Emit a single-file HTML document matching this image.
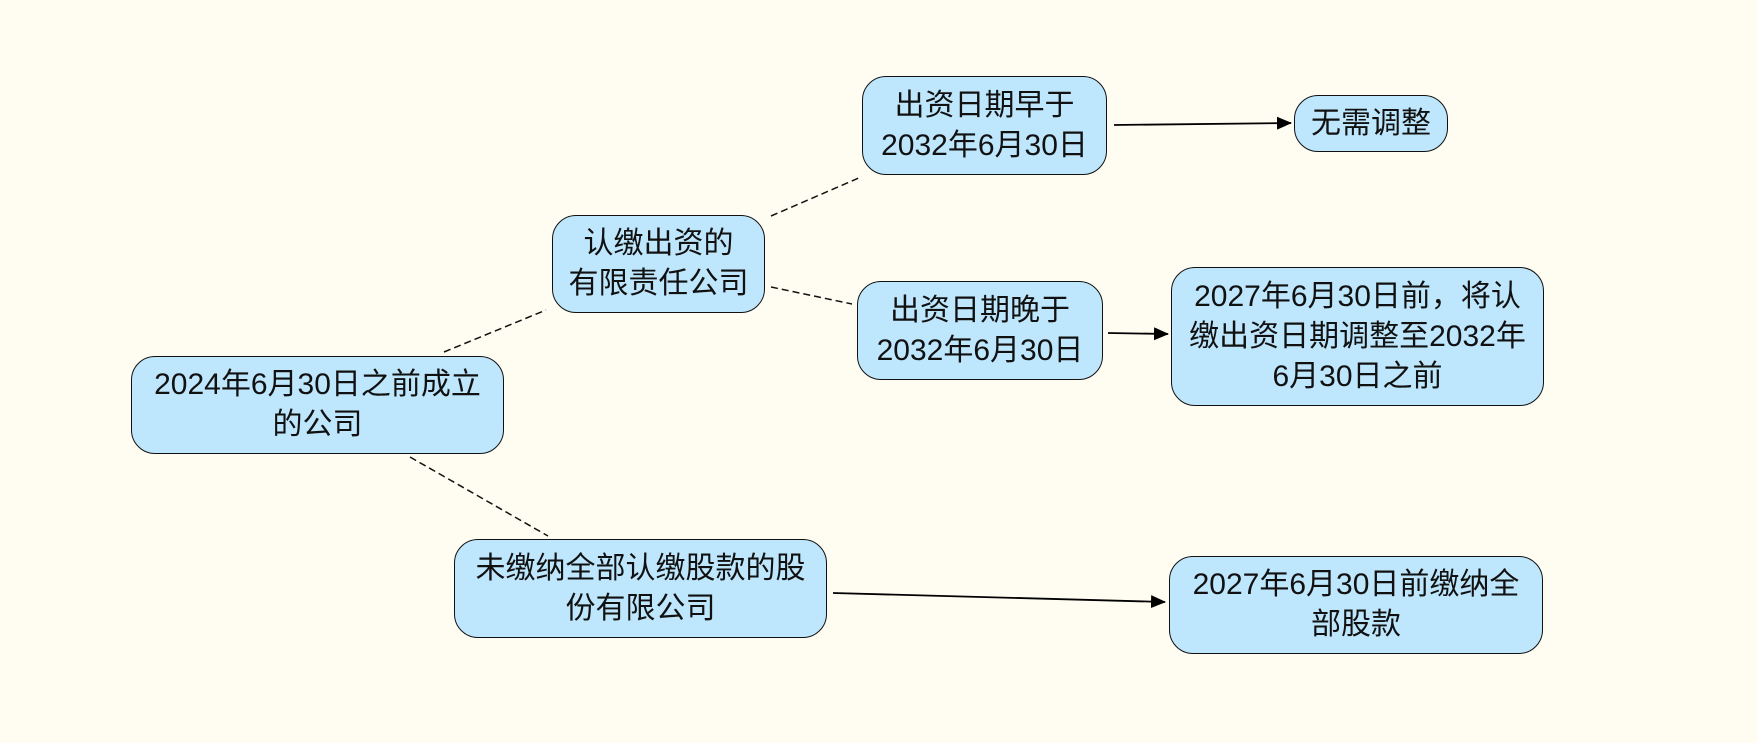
<!DOCTYPE html>
<html><head><meta charset="utf-8"><style>
html,body{margin:0;padding:0;background:#fffdf2;}
.wrap{position:relative;width:1757px;height:743px;overflow:hidden;background:#fffdf2;}
.n{position:absolute;box-sizing:border-box;background:#bee6fc;border:1.5px solid #111;border-radius:24px;display:flex;align-items:center;justify-content:center;text-align:center;font-family:"Liberation Sans","Noto Sans CJK SC",sans-serif;font-size:30px;line-height:40px;color:#111;white-space:nowrap;}
svg{position:absolute;left:0;top:0;}
</style></head><body><div class="wrap">
<svg width="1757" height="743">
<defs><marker id="a" markerWidth="15" markerHeight="13" refX="14" refY="6.5" orient="auto" markerUnits="userSpaceOnUse"><path d="M0,0 L15,6.5 L0,13 z" fill="#000"/></marker></defs>
<g stroke="#111" stroke-width="1.5" stroke-dasharray="7,4" fill="none">
<line x1="444" y1="352" x2="546" y2="310"/>
<line x1="771" y1="216" x2="861" y2="177"/>
<line x1="771" y1="287" x2="852" y2="304"/>
<line x1="410" y1="457" x2="548" y2="536"/>
</g>
<g stroke="#000" stroke-width="1.8" fill="none">
<line x1="1114" y1="125" x2="1291" y2="123" marker-end="url(#a)"/>
<line x1="1108" y1="333" x2="1168" y2="334" marker-end="url(#a)"/>
<line x1="833" y1="593" x2="1165" y2="602" marker-end="url(#a)"/>
</g>
</svg>
<div class="n" style="left:131px;top:356px;width:373px;height:98px;">2024年6月30日之前成立<br>的公司</div>
<div class="n" style="left:552px;top:215px;width:213px;height:98px;">认缴出资的<br>有限责任公司</div>
<div class="n" style="left:862px;top:76px;width:245px;height:99px;">出资日期早于<br>2032年6月30日</div>
<div class="n" style="left:1294px;top:95px;width:154px;height:57px;">无需调整</div>
<div class="n" style="left:857px;top:281px;width:246px;height:99px;">出资日期晚于<br>2032年6月30日</div>
<div class="n" style="left:1171px;top:267px;width:373px;height:139px;">2027年6月30日前，将认<br>缴出资日期调整至2032年<br>6月30日之前</div>
<div class="n" style="left:454px;top:539px;width:373px;height:99px;">未缴纳全部认缴股款的股<br>份有限公司</div>
<div class="n" style="left:1169px;top:556px;width:374px;height:98px;">2027年6月30日前缴纳全<br>部股款</div>
</div></body></html>
